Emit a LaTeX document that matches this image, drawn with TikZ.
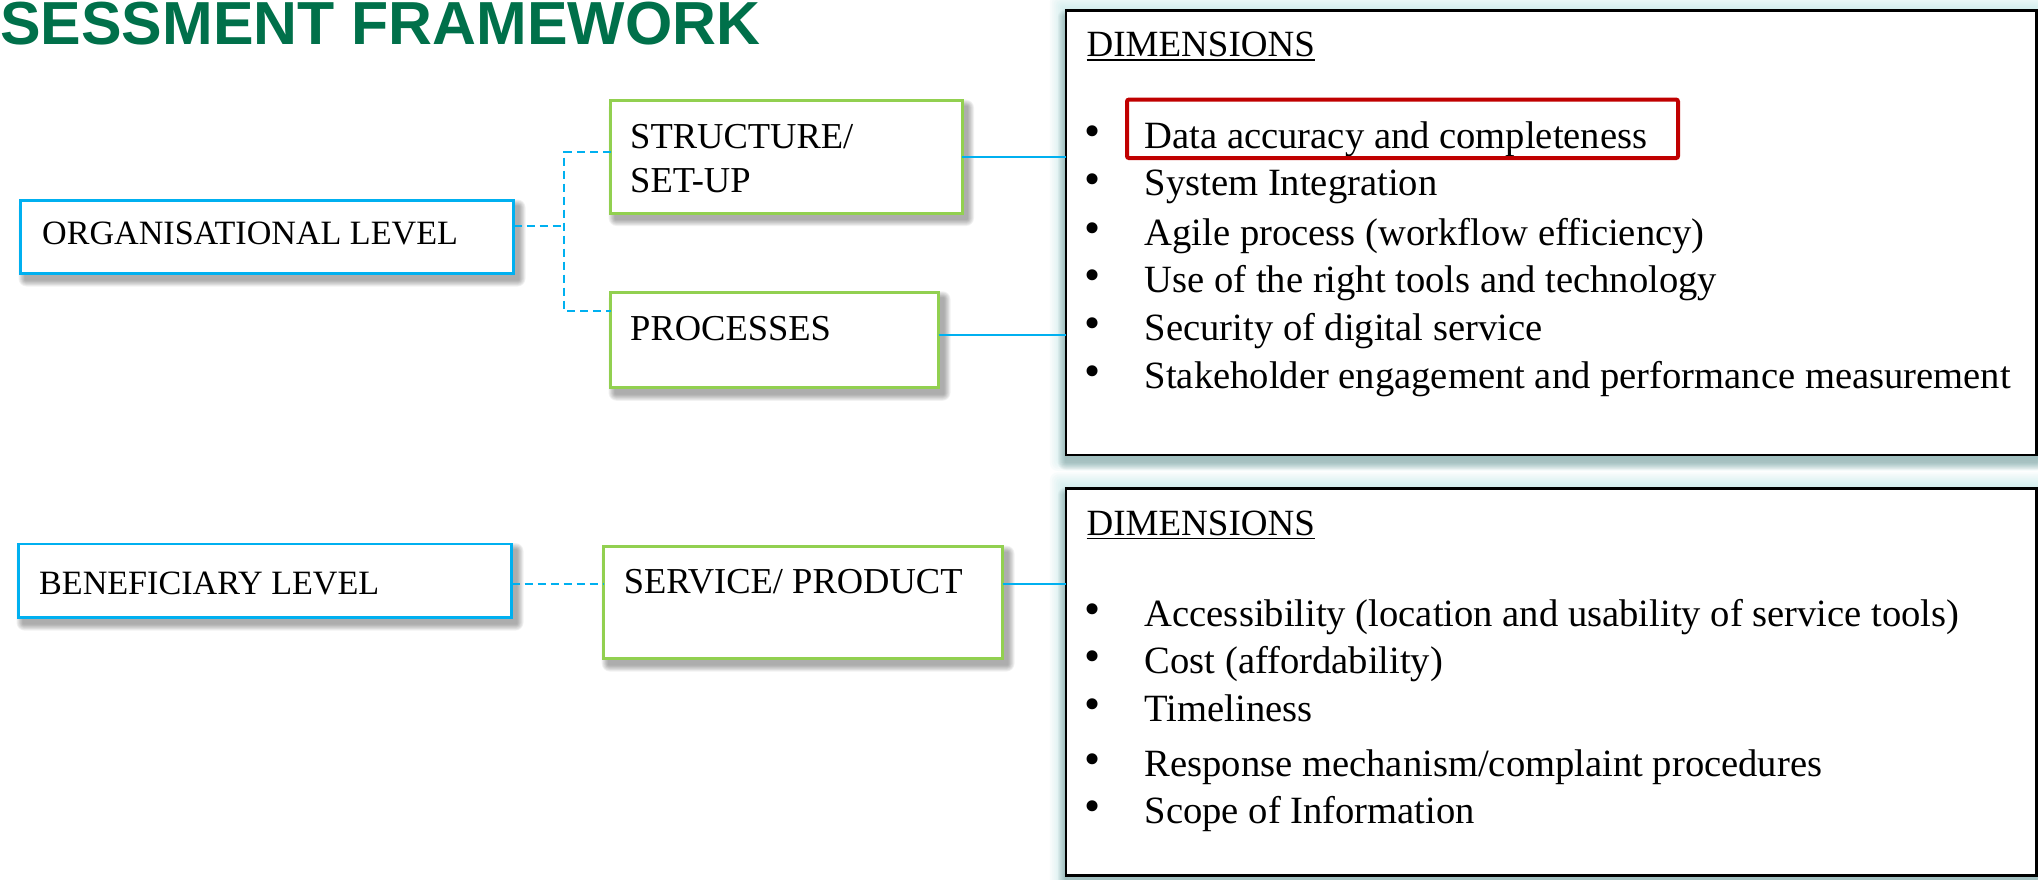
\documentclass[tikz,border=0pt]{standalone}
\usepackage{fontspec}
\setmainfont{Liberation Serif}
\newfontfamily\headfont{Liberation Sans}
\usetikzlibrary{calc,backgrounds}

\definecolor{framegreen}{RGB}{0,112,74}
\definecolor{lvlblue}{RGB}{0,176,240}
\definecolor{boxgreen}{RGB}{146,208,80}
\definecolor{markred}{RGB}{192,0,0}
\definecolor{glowcyan}{RGB}{165,222,222}
\definecolor{shadeteal}{RGB}{100,140,140}

% soft layered shade behind a node: #1 node, #2/#3 offset, #4 spread, #5 colour
\newcommand\softshade[5]{%
  \foreach \k in {1,...,8}{%
    \fill[#5, fill opacity=0.07, rounded corners=\k pt]
      ($(#1.north west)+(#2-\k*#4/8,#3-\k*#4/8)$) rectangle
      ($(#1.south east)+(#2+\k*#4/8,#3+\k*#4/8)$);
  }%
}

\begin{document}
\begin{tikzpicture}[x=1pt,y=-1pt,
  lvlbox/.style={draw=lvlblue, line width=2.5pt, fill=white, inner sep=0pt, outer sep=0pt},
  grnbox/.style={draw=boxgreen, line width=3pt, fill=white, inner sep=0pt, outer sep=0pt},
  dimbox/.style={draw=black, line width=2.5pt, fill=white, inner sep=0pt, outer sep=0pt},
  lvltext/.style={font=\fontsize{34.1}{40}\selectfont, anchor=base west, inner sep=0pt},
  grntext/.style={font=\fontsize{36.5}{44}\selectfont, anchor=base west, inner sep=0pt},
  headtext/.style={font=\fontsize{37}{44}\selectfont, anchor=base west, inner sep=0pt},
  itemtext/.style={font=\fontsize{38.6}{44}\selectfont, anchor=base west, inner sep=0pt},
  itemdot/.style={font=\fontsize{46}{50}\selectfont, anchor=base west, inner sep=0pt},
  dashlink/.style={draw=lvlblue, line width=2pt, dash pattern=on 8pt off 5pt},
  link/.style={draw=lvlblue, line width=2pt},
  underbar/.style={line width=1.8pt},
]
\useasboundingbox (0,0) rectangle (2038,880);

% title
\node[font=\headfont\bfseries\fontsize{60.8}{70}\selectfont, text=framegreen,
      anchor=base west, inner sep=0pt] (title) at (0,45) {SESSMENT FRAMEWORK};

% level boxes
\node[lvlbox, minimum width=493pt, minimum height=73pt] (org) at (267,237) {};
\node[lvlbox, minimum width=493pt, minimum height=73.5pt] (ben) at (265,580.8) {};
\node[lvltext] (orgT) at (42,244) {ORGANISATIONAL LEVEL};
\node[lvltext] (benT) at (39,594.3) {BENEFICIARY LEVEL};

% green boxes
\node[grnbox, minimum width=351.4pt, minimum height=112.3pt] (struct) at (786.3,156.9) {};
\node[grnbox, minimum width=328pt, minimum height=95.5pt] (proc) at (774.5,340) {};
\node[grnbox, minimum width=398.8pt, minimum height=111.8pt] (serv) at (803.1,602.6) {};
\node[grntext] (structT) at (630,148.3) {STRUCTURE/};
\node[grntext] (setupT) at (630,192.7) {SET-UP};
\node[grntext] (procT) at (630,340) {PROCESSES};
\node[grntext] (servT) at (623.6,593.3) {SERVICE/ PRODUCT};

% dimension boxes
\node[dimbox, minimum width=970.7pt, minimum height=444.6pt] (dimA) at (1551.2,232.7) {};
\node[dimbox, minimum width=970.7pt, minimum height=387.2pt] (dimB) at (1551.2,681.9) {};

\node[headtext] (hA) at (1086.5,56.7) {DIMENSIONS};
\draw[underbar] ([yshift=-3.5pt]hA.base west) -- ([yshift=-3.5pt]hA.base east);
\node[headtext] (hB) at (1086.5,535) {DIMENSIONS};
\draw[underbar] ([yshift=-3.5pt]hB.base west) -- ([yshift=-3.5pt]hB.base east);

% organisational dimensions
\node[itemdot] (ba1) at (1084.5,146.3) {\textbullet};
\node[itemtext] (a1) at (1144.5,148.3) {Data accuracy and completeness};
\node[itemdot] (ba2) at (1084.5,194) {\textbullet};
\node[itemtext] (a2) at (1144.5,196) {System Integration};
\node[itemdot] (ba3) at (1084.5,243) {\textbullet};
\node[itemtext] (a3) at (1144.5,245) {Agile process (workflow efficiency)};
\node[itemdot] (ba4) at (1084.5,290.7) {\textbullet};
\node[itemtext] (a4) at (1144.5,292.7) {Use of the right tools and technology};
\node[itemdot] (ba5) at (1084.5,338.7) {\textbullet};
\node[itemtext] (a5) at (1144.5,340.7) {Security of digital service};
\node[itemdot] (ba6) at (1084.5,386.3) {\textbullet};
\node[itemtext] (a6) at (1144.5,388.3) {Stakeholder engagement and performance measurement};

% highlight around the first dimension
\node[draw=markred, line width=4pt, rounded corners=2pt, inner sep=0pt,
      minimum width=551pt, minimum height=58.5pt] (mark) at (1402.5,128.8) {};

% beneficiary dimensions
\node[itemdot] (bb1) at (1084.5,624.7) {\textbullet};
\node[itemtext] (b1) at (1144.5,626.7) {Accessibility (location and usability of service tools)};
\node[itemdot] (bb2) at (1084.5,671.3) {\textbullet};
\node[itemtext] (b2) at (1144.5,673.3) {Cost (affordability)};
\node[itemdot] (bb3) at (1084.5,719.7) {\textbullet};
\node[itemtext] (b3) at (1144.5,721.7) {Timeliness};
\node[itemdot] (bb4) at (1084.5,774) {\textbullet};
\node[itemtext] (b4) at (1144.5,776) {Response mechanism/complaint procedures};
\node[itemdot] (bb5) at (1084.5,821.3) {\textbullet};
\node[itemtext] (b5) at (1144.5,823.3) {Scope of Information};

% connectors
\coordinate (split) at (564,226.3);
\coordinate (upper) at (564,152.3);
\coordinate (lower) at (564,310.7);
\coordinate (rowS) at (0,156.7);
\coordinate (rowP) at (0,335);
\coordinate (rowB) at (0,584.3);

\draw[dashlink] (org.east |- split) -- (split);
\draw[dashlink] (upper -| struct.west) -- (upper) -- (lower) -- (lower -| proc.west);
\draw[dashlink] (ben.east |- rowB) -- (serv.west |- rowB);
\draw[link] (struct.east |- rowS) -- (dimA.west |- rowS);
\draw[link] (proc.east |- rowP) -- (dimA.west |- rowP);
\draw[link] (serv.east |- rowB) -- (dimB.west |- rowB);

% background, glows and shadows
\begin{scope}[on background layer]
  \fill[white] (0,0) rectangle (2038,880);
  \softshade{dimA}{0}{0}{16}{glowcyan}
  \softshade{dimB}{0}{0}{16}{glowcyan}
  \softshade{dimA}{0}{7}{8}{shadeteal}
  \softshade{dimB}{0}{7}{8}{shadeteal}
  \softshade{org}{5}{6}{7}{black!70}
  \softshade{ben}{5}{6}{7}{black!70}
  \softshade{struct}{5}{6}{7}{black!70}
  \softshade{proc}{5}{6}{7}{black!70}
  \softshade{serv}{5}{6}{7}{black!70}
\end{scope}
\end{tikzpicture}
\end{document}
